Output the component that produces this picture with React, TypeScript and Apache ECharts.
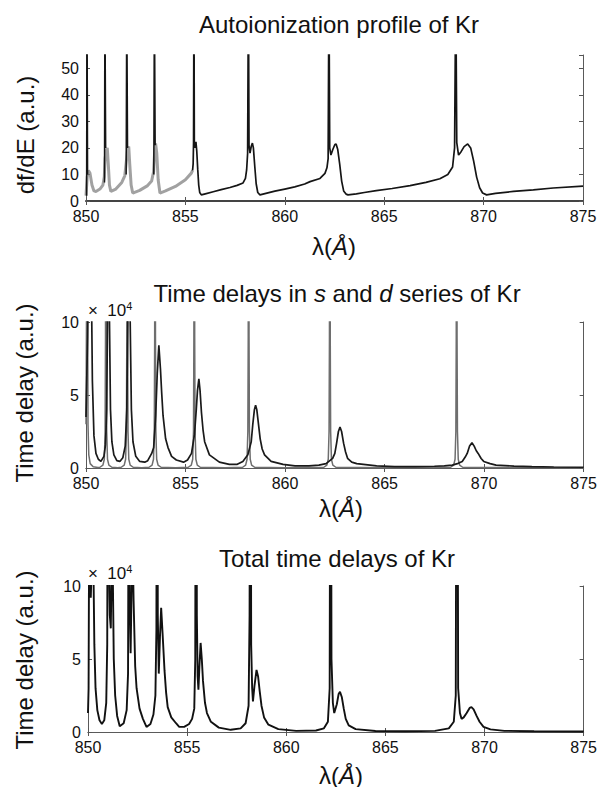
import React, { useEffect, useRef } from 'react';
import * as echarts from 'echarts';

// ---------- axis ranges ----------
const X_MIN = 850;
const X_MAX = 875;
const X_STEP = 5;
const TOP_Y_MAX = 55;
const TOP_Y_STEP = 10;
const DELAY_Y_MAX = 10; // in units of 10^4
const DELAY_Y_STEP = 5;

// ---------- texts ----------
const TITLES = [
  '{n|Autoionization profile of Kr}',
  '{n|Time delays in }{i|s}{n| and }{i|d}{n| series of Kr}',
  '{n|Total time delays of Kr}',
];
const Y_NAMES = ['df/dE (a.u.)', 'Time delay (a.u.)', 'Time delay (a.u.)'];
const X_NAME = '{n|λ(}{i|Å}{n|)}';
const SCALE_NOTE = '{n|×  10}{s|4}';

// ---------- panel 1 : autoionization profile ----------
// faded (grey) part of the profile, 850 - 855.4
const PROFILE_LEFT: [number, number][] = [
  [850.0, 2], [850.06, 9], [850.12, 11.5], [850.2, 10.5], [850.3, 6], [850.4, 3.8], [850.5, 3.6],
  [850.7, 4.5], [850.85, 6], [850.92, 9], [850.96, 16], [851.02, 19], [851.07, 20], [851.12, 14],
  [851.18, 6], [851.25, 3.6], [851.5, 4.5], [851.8, 7], [851.95, 9.5], [852.03, 15], [852.1, 20],
  [852.15, 20.5], [852.2, 14], [852.27, 6], [852.35, 3.0], [852.7, 4.0], [853.1, 5.8], [853.3, 7.5],
  [853.4, 11], [853.45, 18], [853.5, 21.7], [853.56, 18], [853.63, 8], [853.72, 3.0], [854.0, 3.8],
  [854.5, 5.5], [855.0, 8], [855.3, 10.5], [855.36, 11.5],
];
// narrow spikes over the faded part
const PROFILE_SPIKES: [number, number][][] = [
  [[850.03, 2], [850.05, 80], [850.08, 10]],
  [[850.93, 7], [850.95, 80], [850.99, 20]],
  [[852.02, 10], [852.05, 80], [852.09, 20]],
  [[853.41, 10], [853.44, 80], [853.48, 21]],
];
// solid part of the profile, 855.36 - 875
const PROFILE_RIGHT: [number, number][] = [
  [855.36, 11.5], [855.39, 14], [855.41, 22], [855.43, 80], [855.45, 22], [855.47, 20], [855.5, 21.5],
  [855.53, 22.3], [855.57, 19], [855.62, 12], [855.67, 6], [855.72, 3.2], [855.8, 2.3], [856.0, 2.7],
  [856.4, 3.5], [856.8, 4.3], [857.24, 5.1], [857.6, 5.9], [857.9, 6.8], [858.02, 8.5], [858.08, 11.7],
  [858.13, 18], [858.17, 80], [858.2, 21], [858.25, 18], [858.31, 20.5], [858.37, 21.8], [858.42, 20],
  [858.49, 13], [858.56, 6.5], [858.64, 3.2], [858.75, 2.3], [859.0, 2.8], [859.5, 3.7], [860.0, 4.5],
  [860.5, 5.3], [861.0, 6.4], [861.27, 7.3], [861.77, 8.5], [862.02, 10.4], [862.12, 12.5],
  [862.18, 16], [862.22, 80], [862.26, 20], [862.32, 17.3], [862.42, 19.5], [862.52, 21.3],
  [862.58, 21.5], [862.66, 19.5], [862.76, 14], [862.86, 7.5], [862.96, 3.8], [863.08, 2.6],
  [863.18, 2.3], [863.6, 2.7], [864.0, 3.2], [864.6, 3.9], [865.4, 4.7], [866.3, 5.8], [867.1, 7.0],
  [867.8, 8.4], [868.2, 10], [868.44, 12.8], [868.54, 20], [868.6, 80], [868.65, 22], [868.74, 17.3],
  [868.86, 18.5], [869.02, 20.5], [869.2, 21.5], [869.35, 20], [869.5, 15], [869.65, 9], [869.8, 5],
  [869.95, 3.0], [870.15, 2.3], [870.6, 2.9], [871.5, 3.6], [872.5, 4.2], [873.5, 4.9], [875.0, 5.6],
];

// ---------- panel 2 : s and d series time delays (x 10^4) ----------
const S_SERIES: [number, number][] = [
  [850.0, 3], [850.03, 12], [850.06, 60], [850.08, 12], [850.1, 3], [850.14, 0.9], [850.21, 0.3],
  [850.36, 0.08], [850.6, 0.03],
  [850.7, 0.05], [850.85, 0.2], [850.92, 0.6], [850.96, 2.5], [850.98, 9], [851.0, 60], [851.02, 9],
  [851.04, 2.5], [851.08, 0.6], [851.15, 0.2], [851.3, 0.05], [851.6, 0.02],
  [851.77, 0.05], [851.92, 0.2], [851.99, 0.6], [852.03, 2.5], [852.05, 9], [852.07, 60], [852.09, 9],
  [852.11, 2.5], [852.15, 0.6], [852.22, 0.2], [852.37, 0.05], [852.8, 0.02],
  [853.17, 0.05], [853.32, 0.2], [853.39, 0.6], [853.43, 2.5], [853.45, 9], [853.47, 60], [853.49, 9],
  [853.51, 2.5], [853.55, 0.6], [853.62, 0.2], [853.77, 0.05], [854.5, 0.02],
  [855.14, 0.05], [855.29, 0.2], [855.36, 0.6], [855.4, 2.5], [855.42, 9], [855.44, 60], [855.46, 9],
  [855.48, 2.5], [855.52, 0.6], [855.59, 0.2], [855.74, 0.05], [857.0, 0.02],
  [857.87, 0.05], [858.02, 0.2], [858.09, 0.6], [858.13, 2.5], [858.15, 9], [858.17, 60], [858.19, 9],
  [858.21, 2.5], [858.25, 0.6], [858.32, 0.2], [858.47, 0.05], [860.0, 0.02],
  [861.95, 0.05], [862.1, 0.2], [862.17, 0.6], [862.21, 2.5], [862.23, 9], [862.25, 60], [862.27, 9],
  [862.29, 2.5], [862.33, 0.6], [862.4, 0.2], [862.55, 0.05], [865.0, 0.02],
  [868.32, 0.05], [868.47, 0.2], [868.54, 0.6], [868.58, 2.5], [868.6, 9], [868.62, 60], [868.64, 9],
  [868.66, 2.5], [868.7, 0.6], [868.77, 0.2], [868.92, 0.05], [875.0, 0.02],
];
const D_SERIES: [number, number][] = [
  [850.0, 3.5], [850.08, 9], [850.14, 16], [850.2, 18], [850.26, 14], [850.32, 6], [850.4, 2.2],
  [850.5, 1.0], [850.62, 0.6], [850.75, 0.45], [850.9, 0.8], [850.98, 1.6], [851.04, 4], [851.08, 10],
  [851.13, 15], [851.18, 10], [851.23, 4], [851.3, 1.8], [851.4, 0.9], [851.55, 0.5], [851.7, 0.45],
  [851.85, 0.7], [851.97, 1.5], [852.05, 4], [852.1, 10], [852.16, 14], [852.22, 10], [852.28, 4],
  [852.36, 1.8], [852.5, 0.8], [852.7, 0.45], [852.95, 0.4], [853.1, 0.5], [853.3, 1.0], [853.4, 1.4],
  [853.5, 3.6], [853.58, 6.5], [853.66, 8.4], [853.74, 6.8], [853.8, 5.2], [853.87, 3.6], [854.0, 2.0],
  [854.12, 1.4], [854.3, 0.8], [854.54, 0.55], [854.9, 0.4], [855.1, 0.55], [855.3, 1.0],
  [855.45, 2.3], [855.54, 4.0], [855.6, 5.3], [855.67, 6.1], [855.73, 5.3], [855.8, 3.8],
  [855.88, 2.6], [855.96, 1.8], [856.2, 0.9], [856.7, 0.4], [857.2, 0.25], [857.6, 0.25],
  [857.88, 0.45], [858.13, 0.9], [858.3, 1.8], [858.38, 3.0], [858.46, 4.0], [858.52, 4.3],
  [858.58, 4.0], [858.64, 3.3], [858.75, 2.0], [858.85, 1.3], [858.97, 0.9], [859.3, 0.45],
  [859.9, 0.25], [860.5, 0.15], [861.2, 0.15], [861.7, 0.2], [862.06, 0.3], [862.39, 0.66],
  [862.5, 1.0], [862.59, 1.7], [862.68, 2.5], [862.76, 2.8], [862.84, 2.5], [862.94, 1.7],
  [863.04, 1.1], [863.14, 0.66], [863.35, 0.4], [863.6, 0.3], [864.6, 0.15], [865.5, 0.1],
  [866.5, 0.1], [867.5, 0.12], [868.0, 0.15], [868.4, 0.2], [868.7, 0.32], [868.9, 0.45],
  [869.05, 0.75], [869.15, 1.0], [869.27, 1.5], [869.39, 1.73], [869.5, 1.5], [869.6, 1.2],
  [869.7, 1.0], [869.85, 0.65], [869.98, 0.45], [870.3, 0.3], [870.6, 0.2], [871.5, 0.13],
  [872.4, 0.1], [873.5, 0.07], [875.0, 0.05],
];

// ---------- panel 3 : total time delay (x 10^4) ----------
const TOTAL_SERIES: [number, number][] = [
  [850.0, 1.3], [850.03, 3], [850.06, 15], [850.1, 11], [850.14, 9.2], [850.2, 12], [850.26, 13],
  [850.32, 6], [850.38, 3], [850.47, 1.5], [850.58, 0.8], [850.7, 0.55], [850.82, 0.8], [850.92, 2],
  [850.97, 6], [851.0, 25], [851.05, 12], [851.1, 8], [851.15, 7.1], [851.2, 12], [851.25, 11],
  [851.3, 5], [851.37, 2.5], [851.47, 1.1], [851.6, 0.4], [851.8, 0.6], [851.95, 1.5], [852.02, 4],
  [852.06, 25], [852.1, 9], [852.15, 5.4], [852.2, 10], [852.25, 13], [852.3, 9], [852.38, 4.5],
  [852.45, 3.0], [852.6, 1.6], [852.77, 0.9], [852.95, 0.35], [853.15, 0.55], [853.3, 1.2],
  [853.4, 2.5], [853.45, 7], [853.49, 40], [853.52, 8], [853.57, 4.0], [853.63, 6.5], [853.69, 8.5],
  [853.76, 6.8], [853.86, 4.2], [853.94, 2.7], [854.02, 1.7], [854.2, 1.0], [854.44, 0.6],
  [854.6, 0.35], [854.85, 0.35], [855.1, 0.55], [855.25, 0.9], [855.36, 1.6], [855.41, 5],
  [855.45, 40], [855.49, 8], [855.53, 3.8], [855.57, 2.9], [855.62, 4.5], [855.68, 6.1],
  [855.74, 5.0], [855.8, 3.5], [855.9, 2.0], [856.0, 1.3], [856.2, 0.7], [856.6, 0.3], [857.2, 0.15],
  [857.7, 0.25], [857.95, 0.6], [858.1, 1.8], [858.15, 8], [858.19, 40], [858.23, 6], [858.28, 3],
  [858.32, 2.1], [858.4, 3.2], [858.5, 4.25], [858.58, 3.8], [858.66, 2.8], [858.75, 1.8],
  [858.88, 1.0], [859.1, 0.5], [859.6, 0.2], [860.5, 0.08], [861.5, 0.1], [861.9, 0.25], [862.1, 0.7],
  [862.19, 3], [862.24, 40], [862.28, 5], [862.35, 2], [862.42, 1.3], [862.55, 1.9], [862.64, 2.6],
  [862.71, 2.75], [862.8, 2.4], [862.9, 1.6], [863.0, 0.9], [863.15, 0.45], [863.5, 0.2],
  [864.5, 0.07], [866.0, 0.05], [867.5, 0.08], [868.2, 0.25], [868.45, 0.7], [868.55, 2.5],
  [868.61, 40], [868.67, 3], [868.76, 1.3], [868.84, 0.9], [868.95, 1.0], [869.1, 1.3],
  [869.25, 1.65], [869.34, 1.7], [869.45, 1.55], [869.6, 1.1], [869.75, 0.7], [869.95, 0.35],
  [870.3, 0.18], [871.0, 0.08], [872.5, 0.05], [875.0, 0.03],
];

const FONT = '"Liberation Sans", Arial, Helvetica, sans-serif';
const BIG = 24;
const TICK = 16;

const GRIDS = [
  { left: 86, top: 55, width: 497, height: 146 },
  { left: 86, top: 322, width: 499, height: 146 },
  { left: 88, top: 586, width: 499, height: 146 },
];

function buildOption() {
  const xAxes: any[] = [];
  const yAxes: any[] = [];
  GRIDS.forEach((_, g) => {
    const lineColor = '#5a5a5a';
    const base = {
      type: 'value',
      gridIndex: g,
      min: X_MIN,
      max: X_MAX,
      interval: X_STEP,
      splitLine: { show: false },
      axisLine: { show: true, lineStyle: { color: lineColor, width: 1 } },
      axisTick: { show: true, inside: true, length: 4, lineStyle: { color: '#555' } },
    };
    xAxes.push({
      ...base,
      position: 'bottom',
      axisLabel: {
        show: true,
        margin: 8,
        fontSize: TICK,
        lineHeight: 14,
        color: '#111',
        fontFamily: FONT,
      },
    });
    xAxes.push({
      ...base,
      position: 'top',
      axisLine: { show: true, lineStyle: { color: g === 0 ? '#444' : lineColor, width: g === 0 ? 2 : 1 } },
      axisLabel: { show: false },
    });
    const yMax = g === 0 ? TOP_Y_MAX : DELAY_Y_MAX;
    const yStep = g === 0 ? TOP_Y_STEP : DELAY_Y_STEP;
    const ybase = {
      type: 'value',
      gridIndex: g,
      min: 0,
      max: yMax,
      interval: yStep,
      splitLine: { show: false },
      axisLine: { show: true, onZero: false, lineStyle: { color: lineColor, width: 1 } },
      axisTick: { show: true, inside: true, length: 4, lineStyle: { color: '#555' } },
    };
    yAxes.push({
      ...ybase,
      position: 'left',
      axisLabel: {
        show: true,
        margin: 7,
        fontSize: TICK,
        lineHeight: 13,
        color: '#111',
        fontFamily: FONT,
        showMaxLabel: g !== 0,
      },
    });
    yAxes.push({ ...ybase, position: 'right', axisLabel: { show: false } });
  });

  const line = (data: any, g: number, color: string, width: number, z = 2) => ({
    type: 'line',
    xAxisIndex: g * 2,
    yAxisIndex: g * 2,
    data,
    showSymbol: false,
    symbol: 'none',
    clip: true,
    z,
    lineStyle: { color, width },
    emphasis: { disabled: true },
  });

  const series: any[] = [
    line(PROFILE_LEFT, 0, 'rgba(130,130,130,0.75)', 3),
    ...PROFILE_SPIKES.map((s) => line(s, 0, '#151515', 1.5, 3)),
    line(PROFILE_RIGHT, 0, '#151515', 1.7, 3),
    line(S_SERIES, 1, '#6e6e6e', 1.5),
    line(D_SERIES, 1, '#1a1a1a', 1.7, 3),
    line(TOTAL_SERIES, 2, '#111', 1.9),
  ];

  const richBase = {
    n: { fontFamily: FONT, fontSize: BIG, fill: '#111', color: '#111' },
    i: { fontFamily: FONT, fontSize: BIG, fontStyle: 'italic', fill: '#111', color: '#111' },
  };

  const titleY = [24, 293, 558];
  const titleX = [339, 337, 337];
  const xNameY = [246, 508, 775];
  const xNameX = [334, 341, 341];
  const yNameY = [135, 393, 660];
  const yNameX = [25, 24, 24];
  const graphic: any[] = [];
  for (let g = 0; g < 3; g++) {
    graphic.push({
      type: 'text',
      x: titleX[g],
      y: titleY[g],
      style: {
        text: TITLES[g],
        rich: richBase,
        align: 'center',
        verticalAlign: 'middle',
        font: `${BIG}px ${FONT}`,
      },
      silent: true,
    });
    graphic.push({
      type: 'text',
      x: xNameX[g],
      y: xNameY[g],
      style: {
        text: X_NAME,
        rich: richBase,
        align: 'center',
        verticalAlign: 'middle',
        font: `${BIG}px ${FONT}`,
      },
      silent: true,
    });
    graphic.push({
      type: 'text',
      x: yNameX[g],
      y: yNameY[g],
      rotation: Math.PI / 2,
      style: {
        text: Y_NAMES[g],
        align: 'center',
        verticalAlign: 'middle',
        font: `${BIG}px ${FONT}`,
        fill: '#111',
      },
      silent: true,
    });
  }
  const noteY = [310, 573];
  const noteX = [88, 88];
  for (let k = 0; k < 2; k++) {
    graphic.push({
      type: 'text',
      x: noteX[k],
      y: noteY[k],
      style: {
        text: SCALE_NOTE,
        rich: {
          n: { fontFamily: FONT, fontSize: 17, fill: '#111', color: '#111' },
          s: { fontFamily: FONT, fontSize: 11, fill: '#111', color: '#111', verticalAlign: 'top', padding: [0, 0, 9, 0] },
        },
        align: 'left',
        verticalAlign: 'middle',
      },
      silent: true,
    });
  }

  return {
    animation: false,
    backgroundColor: '#ffffff',
    grid: GRIDS.map((g) => ({ ...g, containLabel: false })),
    xAxis: xAxes,
    yAxis: yAxes,
    series,
    graphic,
  };
}

export default function App() {
  const ref = useRef<HTMLDivElement>(null);
  useEffect(() => {
    if (!ref.current) return;
    const chart = echarts.init(ref.current, null, { renderer: 'svg' });
    chart.setOption(buildOption() as any);
    return () => chart.dispose();
  }, []);
  return (
    <div
      ref={ref}
      style={{ position: 'fixed', left: 0, top: 0, width: 600, height: 787, background: '#fff' }}
    />
  );
}
